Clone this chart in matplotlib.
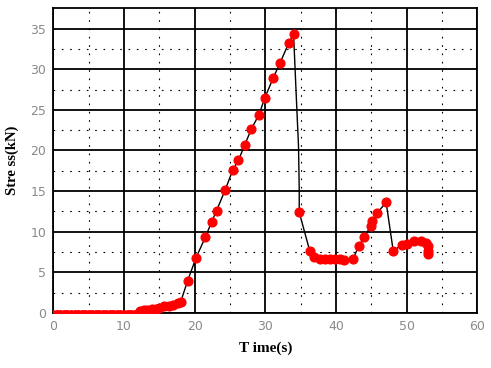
import numpy as np
import matplotlib.pyplot as plt

# stress record
t_base = [0, 0.5, 1, 1.5, 2, 2.5, 3, 3.5, 4, 4.5, 5, 5.5, 6, 6.5, 7, 7.5, 8, 8.5,
          9, 9.5, 10, 10.5, 11, 11.5]
s_base = [0.05] * len(t_base)

t_pts = [12.3, 12.8, 13.3, 13.9, 14.5, 15.0, 15.6, 16.4, 17.0, 17.6, 18.0,
         19.0, 20.2, 21.5, 22.4, 23.1, 24.3, 25.4, 26.2, 27.1, 28.0, 29.1,
         29.9, 31.1, 32.1, 33.3, 34.0,
         34.8, 36.3, 36.9, 37.7, 38.4, 39.1, 39.8, 40.5, 41.2, 42.4,
         43.2, 44.0, 44.9, 45.1, 45.8, 47.1,
         48.1, 49.4, 50.0, 51.0, 52.0, 52.7, 53.0, 53.0, 53.0]
s_pts = [0.3, 0.35, 0.4, 0.45, 0.5, 0.6, 0.85, 0.9, 1.0, 1.2, 1.3,
         3.95, 6.8, 9.3, 11.2, 12.6, 15.1, 17.6, 18.8, 20.7, 22.6, 24.4,
         26.4, 28.9, 30.8, 33.2, 34.3,
         12.4, 7.6, 6.9, 6.6, 6.6, 6.7, 6.7, 6.6, 6.5, 6.6,
         8.2, 9.3, 10.7, 11.3, 12.3, 13.6,
         7.65, 8.4, 8.5, 8.8, 8.9, 8.6, 8.2, 7.6, 7.2]

# unmarked samples on the sharp drop after the peak
t_drop = [34.0, 34.4, 34.7, 34.8, 34.8]
s_drop = [34.3, 26.3, 20.5, 15.2, 12.4]

t_all = t_base + t_pts[:27] + t_drop[1:] + t_pts[28:]
s_all = s_base + s_pts[:27] + s_drop[1:] + s_pts[28:]

fig = plt.figure(figsize=(4.91, 3.68), dpi=100)
ax = fig.add_axes([0.1086, 0.1495, 0.8635, 0.828])

ax.plot(t_all, s_all, color="black", lw=1.0, zorder=3)
ax.plot(t_base, s_base, "o", color="red", ms=4, mec="red", zorder=4)
ax.plot(t_pts, s_pts, "o", color="red", ms=6.3, mec="red", zorder=4)

ax.set_xlim(0, 60)
ax.set_ylim(0, 37.5)
ax.set_xticks(np.arange(0, 61, 10))
ax.set_yticks(np.arange(0, 36, 5))
ax.set_xticks(np.arange(5, 60, 10), minor=True)
ax.set_yticks(np.arange(2.5, 37, 5), minor=True)
ax.grid(which="major", color="black", lw=1.3, zorder=1)
ax.grid(which="minor", color="black", lw=0.8, ls=(0, (1.5, 6)), zorder=1)
ax.tick_params(which="both", length=0, labelsize=9, labelcolor="#8a8a8a", pad=5)
for sp in ax.spines.values():
    sp.set_linewidth(1.3)

ax.set_xlabel("T ime(s)", family="Liberation Serif", fontweight="bold",
              fontsize=11, labelpad=6)
ax.set_ylabel("Stre ss(kN)", family="Liberation Serif", fontweight="bold",
              fontsize=10.5, labelpad=8)

fig.savefig("out.png", dpi=100)
